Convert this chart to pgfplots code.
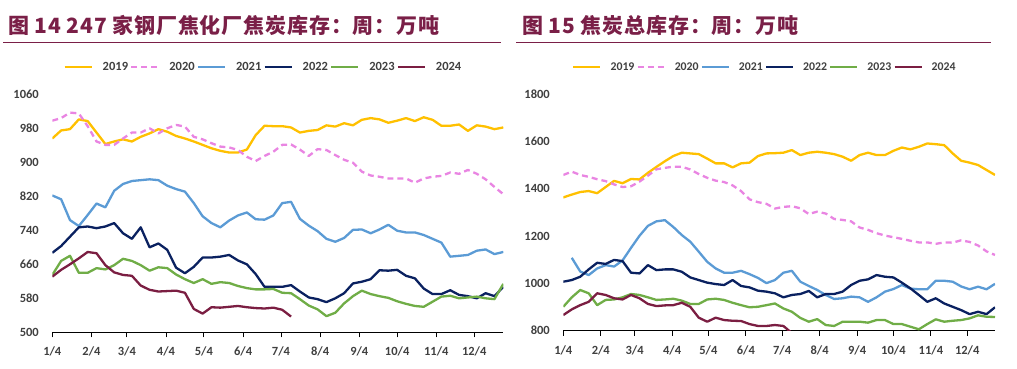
\documentclass[border=0pt]{standalone}
\usepackage{pgfplots}
\pgfplotsset{compat=1.18}
\usepackage{pgfplotstable}
\usepackage{fontspec}
\setmainfont{Carlito}
\newfontfamily\cjk[LetterSpace=4]{Noto Sans CJK SC}
\definecolor{c19}{HTML}{FFC000}
\definecolor{c20}{HTML}{E985E2}
\definecolor{c21}{HTML}{5B9BD5}
\definecolor{c22}{HTML}{0A2160}
\definecolor{c23}{HTML}{70AD47}
\definecolor{c24}{HTML}{7B1E42}
\definecolor{titlec}{HTML}{7A1F47}
\definecolor{tickc}{HTML}{404040}

\pgfplotstableread{
w y19 y20 y21 y22 y23 y24
0 956 998 822 687 635 631
1 975 1004 813 703 668 647
2 978 1017 764 725 680 660
3 1001 1015 750 747 640 674
4 997 985 776 749 640 689
5 970 949 803 745 651 686
6 943 941 794 749 648 658
7 949 941 833 757 658 641
8 954 956 849 733 673 635
9 949 970 856 720 668 633
10 960 970 858 747 658 610
11 968 980 860 700 645 600
12 978 968 858 709 653 596
13 972 980 845 694 651 597
14 962 988 837 652 636 598
15 956 984 831 639 625 593
16 949 960 804 654 616 555
17 941 954 773 676 625 544
18 933 945 757 676 614 559
19 927 937 747 678 618 558
20 923 935 763 682 616 560
21 923 929 775 669 609 562
22 930 913 782 660 604 559
23 964 903 766 637 601 557
24 986 915 765 607 601 556
25 985 925 775 607 602 558
26 985 941 804 607 593 553
27 982 942 807 611 592 537
28 970 930 767 596 578 nan
29 974 915 751 582 563 nan
30 976 931 738 578 554 nan
31 987 929 720 571 538 nan
32 984 917 713 580 546 nan
33 992 906 722 592 568 nan
34 987 899 741 615 585 nan
35 1000 878 742 619 598 nan
36 1004 869 733 625 590 nan
37 1001 866 742 646 585 nan
38 993 862 753 645 581 nan
39 998 862 739 647 573 nan
40 1004 862 735 633 567 nan
41 997 852 735 627 562 nan
42 1006 862 729 603 560 nan
43 1000 866 720 590 572 nan
44 986 868 711 590 584 nan
45 986 876 678 599 586 nan
46 989 873 680 588 580 nan
47 974 882 682 585 582 nan
48 987 873 692 580 584 nan
49 984 860 695 592 580 nan
50 978 842 684 585 578 nan
51 982 825 689 607 614 nan
}\tabL

\pgfplotstableread{
w y19 y20 y21 y22 y23 y24
0 1363 1458 nan 1007 901 866
1 1375 1472 1108 1014 941 890
2 1386 1458 1050 1028 972 908
3 1390 1450 1035 1059 958 922
4 1381 1440 1063 1087 908 958
5 1407 1432 1077 1082 930 951
6 1433 1418 1071 1099 932 937
7 1423 1407 1097 1094 941 932
8 1441 1410 1150 1045 955 951
9 1439 1430 1201 1042 951 937
10 1467 1455 1243 1077 941 913
11 1492 1482 1262 1056 930 904
12 1516 1488 1267 1059 932 907
13 1538 1493 1238 1059 935 908
14 1552 1493 1204 1049 927 918
15 1549 1481 1176 1025 913 901
16 1546 1462 1134 1014 913 855
17 1527 1446 1091 1003 932 838
18 1507 1434 1063 997 935 855
19 1507 1428 1045 993 930 845
20 1490 1414 1045 1014 918 842
21 1507 1390 1053 989 908 841
22 1510 1355 1039 983 899 828
23 1538 1343 1023 969 901 820
24 1549 1336 1001 965 908 820
25 1550 1316 1014 958 915 824
26 1552 1323 1045 941 894 820
27 1563 1326 1053 951 880 790
28 1542 1317 1007 955 854 nan
29 1552 1293 989 968 838 nan
30 1556 1303 972 941 849 nan
31 1552 1295 951 955 824 nan
32 1546 1272 934 955 820 nan
33 1535 1268 937 965 838 nan
34 1518 1262 944 993 838 nan
35 1542 1236 941 1011 838 nan
36 1552 1226 922 1017 834 nan
37 1542 1212 941 1035 845 nan
38 1542 1202 965 1028 845 nan
39 1560 1195 976 1025 828 nan
40 1574 1188 993 1003 828 nan
41 1566 1180 978 979 817 nan
42 1577 1173 975 951 806 nan
43 1591 1173 975 922 828 nan
44 1588 1167 1011 937 848 nan
45 1584 1173 1011 915 838 nan
46 1549 1172 1007 901 842 nan
47 1518 1182 987 887 845 nan
48 1510 1175 975 870 852 nan
49 1500 1160 986 880 865 nan
50 1479 1135 975 870 859 nan
51 1458 1120 998 899 858 nan
}\tabR

\pgfplotsset{
  panel/.style={
    scale only axis,
    anchor=south west,
    xmin=4, xmax=361,
    axis lines*=left,
    y axis line style={draw=none},
    x axis line style={-, line width=0.9pt, black},
    ytick style={draw=none},
    xtick style={draw=black, line width=0.9pt},
    tick align=outside,
    major tick length=5pt,
    xtick={4,35,63,94,124,155,185,216,247,277,308,338},
    xticklabels={1/4,2/4,3/4,4/4,5/4,6/4,7/4,8/4,9/4,10/4,11/4,12/4},
    ticklabel style={font=\fontsize{12.5}{14}\selectfont\bfseries, text=tickc},
    yticklabel style={xshift=-5pt},
    xticklabel style={yshift=-6pt},
    /pgf/number format/assume math mode=true,
    /pgf/number format/1000 sep={},
    legend columns=6,
    legend cell align=left,
    legend image code/.code={\draw[#1] (0pt,0pt) -- (27pt,0pt);},
    every axis plot/.append style={line width=2.3pt, line join=round},
    clip=true,
  }
}

\begin{document}
\begin{tikzpicture}
\useasboundingbox (0,0) rectangle (1017pt,368pt);
\node[anchor=base west, inner sep=0pt, text=titlec, font=\cjk\bfseries\fontsize{21}{24}\selectfont] at (8pt,335pt) {图 14 247 家钢厂焦化厂焦炭库存：周：万吨};
\draw[titlec, line width=1pt] (3pt,325.3pt) -- (501pt,325.3pt);
\node[anchor=base west, inner sep=0pt, text=titlec, font=\cjk\bfseries\fontsize{21}{24}\selectfont] at (522pt,335pt) {图 15 焦炭总库存：周：万吨};
\draw[titlec, line width=1pt] (516pt,325.3pt) -- (991pt,325.3pt);

\begin{axis}[panel, at={(52.3pt,35.7pt)}, width=451pt, height=238pt,
  ymin=500, ymax=1060, ytick={500,580,660,740,820,900,980,1060},
  legend style={at={(0.468,1.115)}, anchor=center, draw=none, fill=none, inner sep=0pt,
      font=\fontsize{12.5}{14}\selectfont\bfseries, text=tickc,
      /tikz/every odd column/.append style={column sep=8pt}}]
\addplot[c19] table[x expr=4+7*\thisrow{w}, y=y19] {\tabL};
\addplot[c20, dash pattern=on 6pt off 4pt] table[x expr=4+7*\thisrow{w}, y=y20] {\tabL};
\addplot[c21] table[x expr=4+7*\thisrow{w}, y=y21] {\tabL};
\addplot[c22] table[x expr=4+7*\thisrow{w}, y=y22] {\tabL};
\addplot[c23] table[x expr=4+7*\thisrow{w}, y=y23] {\tabL};
\addplot[c24] table[x expr=4+7*\thisrow{w}, y=y24] {\tabL};
\legend{2019,2020,2021,2022,2023,2024}
\end{axis}

\begin{axis}[panel, at={(563.3pt,37.3pt)}, width=431.7pt, height=236.7pt,
  ymin=800, ymax=1800, ytick={800,1000,1200,1400,1600,1800},
  legend style={at={(0.467,1.114)}, anchor=center, draw=none, fill=none, inner sep=0pt,
      font=\fontsize{11.8}{14}\selectfont\bfseries, text=tickc,
      /tikz/every odd column/.append style={column sep=7pt}}]
\addplot[c19] table[x expr=4+7*\thisrow{w}, y=y19] {\tabR};
\addplot[c20, dash pattern=on 6pt off 4pt] table[x expr=4+7*\thisrow{w}, y=y20] {\tabR};
\addplot[c21] table[x expr=4+7*\thisrow{w}, y=y21] {\tabR};
\addplot[c22] table[x expr=4+7*\thisrow{w}, y=y22] {\tabR};
\addplot[c23] table[x expr=4+7*\thisrow{w}, y=y23] {\tabR};
\addplot[c24] table[x expr=4+7*\thisrow{w}, y=y24] {\tabR};
\legend{2019,2020,2021,2022,2023,2024}
\end{axis}
\end{tikzpicture}
\end{document}
